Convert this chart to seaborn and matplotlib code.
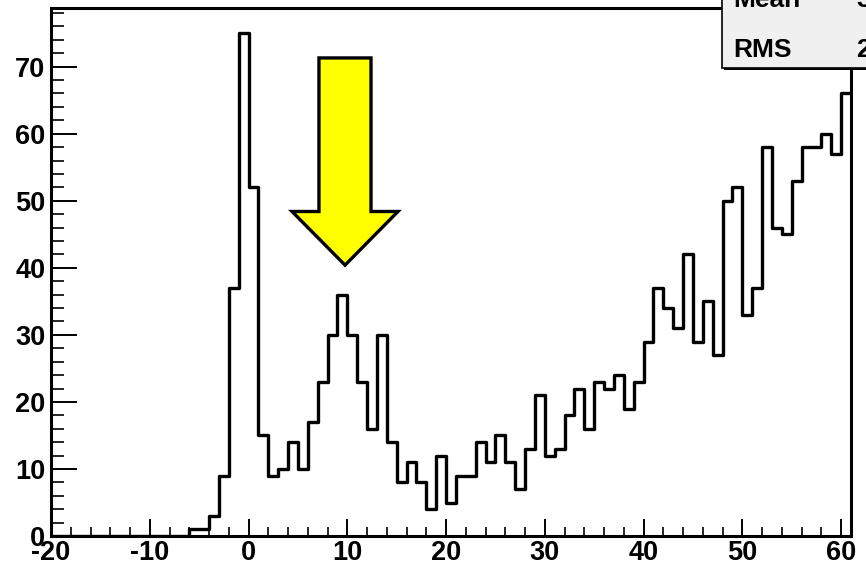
import numpy as np
import pandas as pd
import matplotlib
matplotlib.use("Agg")
import matplotlib.pyplot as plt
from matplotlib.patches import Polygon, Rectangle
from matplotlib.ticker import MultipleLocator
import seaborn as sns

# histogram: 81 bins of width 1 from -20 to 61
bin_edges = list(range(-20, 62))
counts = [0] * 14 + [1, 1, 3, 9, 37, 75, 52,
                     15, 9, 10, 14, 10,
                     17, 23, 30, 36, 30, 23, 16, 30, 14, 8,
                     11, 8, 4, 12, 5, 9, 9, 14, 11, 15,
                     11, 7, 13, 21, 12, 13, 18, 22, 16, 23,
                     22, 24, 19, 23, 29, 37, 34, 31, 42, 29,
                     35, 27, 50, 52, 33, 37, 58, 46, 45, 53,
                     58, 58, 60, 57, 66]
stat_names = ['Mean', 'RMS']

df = pd.DataFrame({'x': np.array(bin_edges[:-1]) + 0.5,
                   'n': np.array(counts, dtype=float)})
mean = np.average(df['x'], weights=df['n'])
rms = np.sqrt(np.average((df['x'] - mean) ** 2, weights=df['n']))
stat_values = ['%.2f' % mean, '%.2f' % rms]

sns.set_style('ticks')
plt.rcParams['font.family'] = ['Liberation Sans', 'DejaVu Sans']
plt.rcParams['font.weight'] = 'bold'
plt.rcParams['axes.unicode_minus'] = False
plt.rcParams['text.color'] = 'black'
plt.rcParams['xtick.color'] = 'black'
plt.rcParams['ytick.color'] = 'black'

fig = plt.figure(figsize=(8.66, 5.70), dpi=100)
ax = fig.add_axes([0.0589, 0.0596, 0.9238, 0.9264])

sns.histplot(data=df, x='x', weights='n', bins=bin_edges, element='step',
             fill=False, color='black', linewidth=2.4, ax=ax)

ax.set_xlim(-20, 61)
ax.set_ylim(0, 78.75)
ax.set_xlabel('')
ax.set_ylabel('')

ax.xaxis.set_major_locator(MultipleLocator(10))
ax.xaxis.set_minor_locator(MultipleLocator(2))
ax.yaxis.set_major_locator(MultipleLocator(10))
ax.yaxis.set_minor_locator(MultipleLocator(2))
ax.tick_params(axis='x', which='major', direction='in', length=12.5,
               width=1.4, pad=3, labelsize=19.5, labelcolor='black')
ax.tick_params(axis='x', which='minor', direction='in', length=6.2, width=1.2)
ax.tick_params(axis='y', which='major', direction='in', length=18.5,
               width=1.4, pad=4, labelsize=19.5, labelcolor='black')
ax.tick_params(axis='y', which='minor', direction='in', length=9.5, width=1.2)
for lbl in ax.get_xticklabels() + ax.get_yticklabels():
    lbl.set_fontweight('bold')

for side in ['left', 'bottom', 'top', 'right']:
    ax.spines[side].set_visible(True)
    ax.spines[side].set_linewidth(2.2)
    ax.spines[side].set_color('black')

# yellow arrow
arrow = Polygon([(7.13, 71.3), (12.4, 71.3), (12.4, 48.4), (15.13, 48.4),
                 (9.77, 40.4), (4.4, 48.4), (7.13, 48.4)], closed=True,
                facecolor='#ffff00', edgecolor='black', linewidth=2.4,
                zorder=5)
ax.add_patch(arrow)

# stats box (cropped at top right)
shadow = Rectangle((0.8360, 0.8765), 0.3, 0.3, transform=fig.transFigure,
                   facecolor='black', edgecolor='none', zorder=8)
box = Rectangle((0.8337, 0.8807), 0.3, 0.3, transform=fig.transFigure,
                facecolor='#f0f0f0', edgecolor='black', linewidth=1.2,
                zorder=9)
fig.patches.extend([shadow, box])
for i, (name, val) in enumerate(zip(stat_names, stat_values)):
    yb = 0.9877 - i * 0.0877
    fig.text(0.8464, yb, name, fontsize=19, fontweight='bold', va='baseline',
             ha='left', color='black', zorder=10)
    fig.text(0.9885, yb, val, fontsize=19, fontweight='bold', va='baseline',
             ha='left', color='black', zorder=10)

fig.savefig('out.png', dpi=100)
plt.close()
